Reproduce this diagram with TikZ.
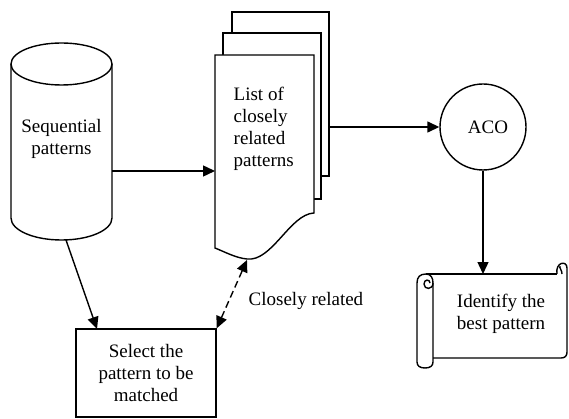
\documentclass[tikz,border=0pt]{standalone}
\usepackage{fontspec}
\setmainfont{Liberation Serif}
\usetikzlibrary{arrows.meta,calc}
\begin{document}
\begin{tikzpicture}[x=1pt,y=-1pt,
  line width=1.4pt,
  every node/.style={font=\fontsize{19}{22}\selectfont},
  arr/.style={-{Triangle[length=12pt,width=11pt]}},
  darr/.style={{Triangle[length=12pt,width=11pt]}-{Triangle[length=12pt,width=11pt]}, dash pattern=on 7pt off 4pt},
  txt/.style={align=center, inner sep=0pt}]
\useasboundingbox (0,0) rectangle (569,419);
% cylinder
\draw (61.5,64) ellipse [x radius=50.5pt, y radius=21pt];
\draw (11,64) -- (11,218) .. controls (11,230.2) and (33.6,240) .. (61.5,240)
      .. controls (89.4,240) and (112,230.2) .. (112,218) -- (112,64);
\node[txt] (seq) at (61.5,139) {Sequential\\patterns};
\coordinate (cylright) at (112,171);
\coordinate (cylbot) at (66,240);
% document stack
\draw[fill=white] (232,12) rectangle (329,176);
\draw[fill=white] (223,33) rectangle (321,199);
\draw[fill=white] (215,55) -- (314,55) -- (314,213)
   .. controls (290,214) and (272,262) .. (247,259)
   .. controls (236,258) and (225,252) .. (215,248) -- cycle;
\node[align=left, inner sep=0pt, anchor=north west] (list) at (233,86) {List of\\closely\\related\\patterns};
\coordinate (docleft) at (215,171);
\coordinate (docright) at (329,127);
\coordinate (docbot) at (247,260);
% ACO
\node[circle, draw, minimum size=86pt, inner sep=0pt] (aco) at (483,127) {};
\node[inner sep=0pt] (acotxt) at (488,127) {ACO};
% scroll
\draw (426,274) -- (557,274);
\draw (557,274) .. controls (555,262) and (567,260) .. (567,268) -- (567,352)
      .. controls (567,356) and (565,358) .. (561,358) -- (433,358);
\draw (562,274) .. controls (562,270) and (559,268) .. (560,266);
\draw (417,283) .. controls (417,277) and (420,274) .. (426,274)
      .. controls (431,274) and (433,278) .. (433,283) -- (433,362)
      .. controls (433,366) and (430,368) .. (425,368)
      .. controls (420,368) and (417,366) .. (417,362) -- cycle;
\draw (433,283) .. controls (433,290) and (424,290) .. (424,284)
      .. controls (424,279) and (430,279) .. (430,283);
\coordinate (scrolltop) at (483,274);
\node[txt] (ident) at (501,314) {Identify the\\best pattern};
% select box
\node[draw, minimum width=140pt, minimum height=88pt, txt] (sel) at (146,373) {Select the\\pattern to be\\matched};
\coordinate (seltop) at (97,329);
% label
\node[anchor=west, inner sep=0pt] (close) at (248,301) {Closely related};
% connectors
\draw[arr] (cylright) -- (docleft);
\draw[arr] (docright) -- (aco.west);
\draw[arr] (aco.south) -- (scrolltop);
\draw[arr] (cylbot) -- (seltop);
\draw[darr] (sel.north east) -- (docbot);
\end{tikzpicture}
\end{document}
